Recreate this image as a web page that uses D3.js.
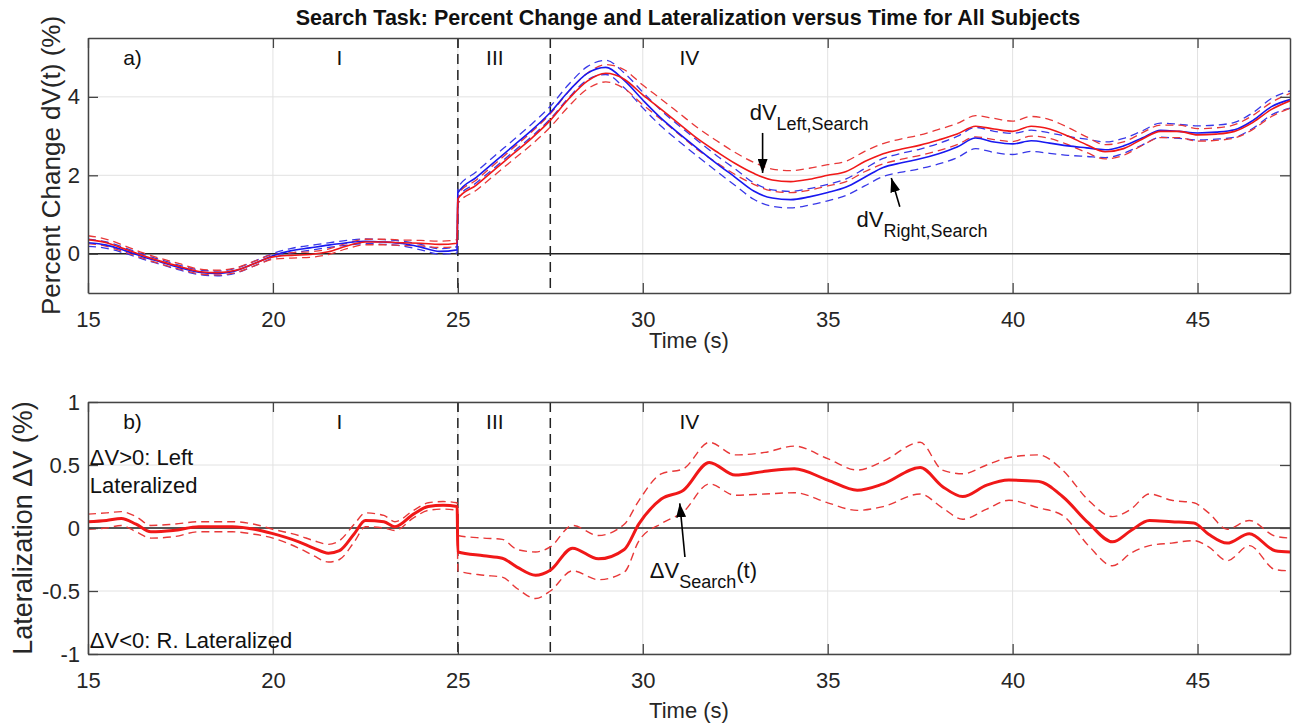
<!DOCTYPE html>
<html>
<head>
<meta charset="utf-8">
<script src="https://cdn.jsdelivr.net/npm/d3@7"></script>
<style>
  body { margin: 0; background: #fff; }
  svg { display: block; font-family: "Liberation Sans", Arial, sans-serif; }
</style>
</head>
<body>
<div id="chart"></div>
<script>
// ---- panel a: percent change, left (red) and right (blue) hemisphere ----
const timeA = [15, 15.5, 16, 16.5, 17, 17.5, 18, 18.5, 19, 19.5, 20, 20.5, 21, 21.5, 22, 22.5, 23, 23.5, 24, 24.5, 24.98,
  25, 25.5, 26, 26.5, 27, 27.5, 28, 28.5, 29, 29.5, 30, 30.5, 31, 31.5, 32, 32.5, 33, 33.5, 34, 34.5,
  35, 35.5, 36, 36.5, 37, 37.5, 38, 38.5, 39, 39.5, 40, 40.5, 41, 41.5, 42, 42.5, 43, 43.5, 44, 44.5,
  45, 45.5, 46, 46.5, 47, 47.5];
const leftMean = [0.36, 0.28, 0.12, -0.05, -0.2, -0.33, -0.45, -0.48, -0.42, -0.25, -0.08, -0.04, -0.02, 0.05, 0.2, 0.3, 0.3, 0.28, 0.27, 0.24, 0.27,
  1.40, 1.75, 2.15, 2.55, 2.95, 3.40, 3.95, 4.4, 4.6, 4.45, 4.05, 3.68, 3.3, 2.92, 2.6, 2.3, 2.05, 1.88, 1.84, 1.9,
  2.0, 2.1, 2.35, 2.55, 2.67, 2.77, 2.9, 3.05, 3.25, 3.18, 3.12, 3.25, 3.18, 3.0, 2.78, 2.6, 2.68, 2.92, 3.12, 3.12,
  3.03, 3.05, 3.12, 3.35, 3.68, 3.9];
const leftErr = [0.1, 0.09, 0.08, 0.07, 0.07, 0.07, 0.06, 0.06, 0.06, 0.06, 0.06, 0.07, 0.07, 0.07, 0.07, 0.07, 0.07, 0.07, 0.07, 0.08, 0.09,
  0.12, 0.13, 0.14, 0.15, 0.16, 0.17, 0.19, 0.2, 0.22, 0.24, 0.25, 0.26, 0.27, 0.28, 0.28, 0.28, 0.28, 0.28, 0.28, 0.28,
  0.27, 0.26, 0.26, 0.26, 0.26, 0.26, 0.27, 0.27, 0.27, 0.27, 0.26, 0.25, 0.24, 0.22, 0.2, 0.18, 0.17, 0.16, 0.16, 0.16,
  0.16, 0.16, 0.17, 0.18, 0.18, 0.19];
const rightMean = [0.28, 0.22, 0.08, -0.08, -0.22, -0.36, -0.47, -0.5, -0.43, -0.25, -0.05, 0.08, 0.15, 0.22, 0.28, 0.32, 0.3, 0.26, 0.17, 0.06, 0.1,
  1.55, 1.95, 2.35, 2.75, 3.15, 3.6, 4.15, 4.6, 4.75, 4.42, 3.92, 3.45, 3.05, 2.67, 2.3, 1.95, 1.6, 1.42, 1.38, 1.45,
  1.56, 1.7, 1.95, 2.2, 2.32, 2.42, 2.55, 2.72, 2.95, 2.85, 2.8, 2.88, 2.82, 2.75, 2.7, 2.65, 2.75, 2.95, 3.15, 3.12,
  3.08, 3.1, 3.16, 3.4, 3.75, 3.93];
const rightErr = [0.09, 0.08, 0.07, 0.06, 0.06, 0.06, 0.06, 0.06, 0.06, 0.06, 0.06, 0.06, 0.06, 0.06, 0.06, 0.06, 0.06, 0.06, 0.07, 0.07, 0.08,
  0.13, 0.14, 0.15, 0.15, 0.16, 0.16, 0.17, 0.17, 0.18, 0.19, 0.2, 0.2, 0.2, 0.2, 0.2, 0.21, 0.21, 0.21, 0.21, 0.21,
  0.21, 0.21, 0.22, 0.23, 0.24, 0.25, 0.26, 0.27, 0.27, 0.27, 0.27, 0.27, 0.26, 0.24, 0.22, 0.2, 0.19, 0.18, 0.18, 0.18,
  0.18, 0.18, 0.19, 0.2, 0.21, 0.22];

// ---- panel b: lateralization dV = left - right ----
const timeB = [15, 15.5, 15.9, 16.3, 16.7, 17.3, 18, 18.9, 19.5, 20, 20.7, 21.1, 21.5, 21.8, 22.2, 22.5, 23, 23.3, 23.8, 24.2, 24.6, 24.98,
  25, 25.7, 26.2, 26.6, 27.1, 27.5, 28.1, 28.8, 29.5, 29.9, 30.5, 31.1, 31.8, 32.5, 33.3, 34.1, 35.0, 35.8, 36.5, 37.5,
  38.1, 38.65, 39.3, 39.9, 40.7, 41.35, 42.05, 42.7, 43.2, 43.7, 44.3, 44.9, 45.3, 45.8, 46.4, 47.1, 47.5];
const latMean = [0.05, 0.06, 0.075, 0.03, -0.03, -0.02, 0.01, 0.01, -0.01, -0.045, -0.11, -0.16, -0.2, -0.18, -0.045, 0.06, 0.05, 0.01, 0.11, 0.17, 0.18, 0.17,
  -0.19, -0.22, -0.24, -0.31, -0.375, -0.335, -0.16, -0.245, -0.17, 0.035, 0.23, 0.3, 0.52, 0.42, 0.45, 0.47, 0.38, 0.3, 0.35, 0.48,
  0.33, 0.25, 0.34, 0.38, 0.37, 0.25, 0.04, -0.11, -0.02, 0.06, 0.05, 0.04, -0.05, -0.12, -0.045, -0.18, -0.19];
const latUpper = [0.11, 0.12, 0.13, 0.09, 0.02, 0.03, 0.05, 0.05, 0.03, -0.01, -0.06, -0.1, -0.13, -0.1, 0.03, 0.12, 0.1, 0.05, 0.14, 0.2, 0.21, 0.2,
  -0.06, -0.08, -0.09, -0.17, -0.19, -0.15, 0.02, -0.06, 0.03, 0.22, 0.43, 0.47, 0.68, 0.58, 0.6, 0.65, 0.55, 0.46, 0.53, 0.68,
  0.46, 0.43, 0.5, 0.56, 0.58, 0.46, 0.22, 0.09, 0.15, 0.27, 0.22, 0.2, 0.12, -0.01, 0.06, -0.065, -0.08];
const latLower = [-0.01, 0.0, 0.02, -0.03, -0.08, -0.07, -0.03, -0.03, -0.05, -0.08, -0.16, -0.22, -0.27, -0.25, -0.11, 0.01, 0.0, -0.02, 0.08, 0.14, 0.15, 0.14,
  -0.34, -0.375, -0.39, -0.48, -0.56, -0.5, -0.34, -0.41, -0.35, -0.1, 0.035, 0.13, 0.35, 0.26, 0.27, 0.28, 0.2, 0.14, 0.17, 0.27,
  0.16, 0.07, 0.15, 0.22, 0.16, 0.1, -0.14, -0.3, -0.2, -0.14, -0.12, -0.1, -0.15, -0.26, -0.14, -0.33, -0.34];

// axis ticks and phase markers
const xTicks = [15, 20, 25, 30, 35, 40, 45];
const yTicksA = [0, 2, 4];
const yTicksB = [-1, -0.5, 0, 0.5, 1];
const phaseLines = [25, 27.5];
const phaseLabels = [{ t: 21.8, text: "I" }, { t: 26.0, text: "III" }, { t: 31.26, text: "IV" }];

const width = 1292, height = 726;
const marginLeft = 88, marginRight = 2;
const red = "#f01818", redDash = "#e83838", blue = "#1818f0", blueDash = "#3838e8";
const ink = "#262626";

const svg = d3.select("#chart").append("svg")
    .attr("width", width)
    .attr("height", height)
    .attr("viewBox", [0, 0, width, height]);

const defs = svg.append("defs");
defs.append("marker")
    .attr("id", "arrow")
    .attr("viewBox", "0 -5 14 10")
    .attr("refX", 14).attr("refY", 0)
    .attr("markerUnits", "userSpaceOnUse")
    .attr("markerWidth", 14).attr("markerHeight", 10)
    .attr("orient", "auto")
  .append("path")
    .attr("d", "M0,-5L14,0L0,5Z")
    .attr("fill", "#000");

const x = d3.scaleLinear().domain([15, 47.5]).range([marginLeft, width - marginRight]);

svg.append("text")
    .attr("x", 688).attr("y", 25)
    .attr("text-anchor", "middle")
    .attr("font-size", 21.5).attr("font-weight", "bold")
    .attr("fill", "#111")
    .text("Search Task: Percent Change and Lateralization versus Time for All Subjects");

function panel({ id, top, bottom, yDomain, yTicks, yLabel, yLabelX, yLabelSize, tag, xLabelY }) {
  const y = d3.scaleLinear().domain(yDomain).range([bottom, top]);
  const g = svg.append("g");
  const [x0, x1] = x.range();

  defs.append("clipPath").attr("id", `clip-${id}`)
    .append("rect").attr("x", x0).attr("y", top).attr("width", x1 - x0).attr("height", bottom - top);

  // grid
  g.append("g").selectAll("line").data(xTicks).join("line")
      .attr("x1", d => x(d)).attr("x2", d => x(d))
      .attr("y1", top).attr("y2", bottom)
      .attr("stroke", "#e2e2e2").attr("stroke-width", 1);
  g.append("g").selectAll("line").data(yTicks).join("line")
      .attr("x1", x0).attr("x2", x1)
      .attr("y1", d => y(d)).attr("y2", d => y(d))
      .attr("stroke", "#e2e2e2").attr("stroke-width", 1);

  // zero line
  g.append("line")
      .attr("x1", x0).attr("x2", x1)
      .attr("y1", y(0)).attr("y2", y(0))
      .attr("stroke", "#222").attr("stroke-width", 1.6);

  // phase boundaries
  g.append("g").selectAll("line").data(phaseLines).join("line")
      .attr("x1", d => x(d)).attr("x2", d => x(d))
      .attr("y1", top).attr("y2", bottom)
      .attr("stroke", "#222").attr("stroke-width", 1.5)
      .attr("stroke-dasharray", "10,6");

  const plot = g.append("g").attr("clip-path", `url(#clip-${id})`);

  // axes (MATLAB style: ticks inward on all four sides)
  const axB = g.append("g").attr("transform", `translate(0,${bottom})`)
      .call(d3.axisBottom(x).tickValues(xTicks).tickSizeInner(-10).tickSizeOuter(0).tickPadding(18));
  const axT = g.append("g").attr("transform", `translate(0,${top})`)
      .call(d3.axisTop(x).tickValues(xTicks).tickSizeInner(-10).tickSizeOuter(0).tickFormat(""));
  const axL = g.append("g").attr("transform", `translate(${x0},0)`)
      .call(d3.axisLeft(y).tickValues(yTicks).tickSizeInner(-10).tickSizeOuter(0).tickPadding(8).tickFormat(d => String(d)));
  const axR = g.append("g").attr("transform", `translate(${x1},0)`)
      .call(d3.axisRight(y).tickValues(yTicks).tickSizeInner(-10).tickSizeOuter(0).tickFormat(""));
  [axB, axT, axL, axR].forEach(a => {
    a.select(".domain").attr("stroke", "#444").attr("stroke-width", 1.5);
    a.selectAll(".tick line").attr("stroke", "#444").attr("stroke-width", 1.3);
    a.selectAll("text").attr("font-size", 22).attr("fill", ink).attr("font-family", null);
  });

  // axis labels
  g.append("text")
      .attr("x", (x0 + x1) / 2).attr("y", xLabelY)
      .attr("text-anchor", "middle").attr("font-size", 22).attr("fill", ink)
      .text("Time (s)");
  g.append("text")
      .attr("transform", `translate(${yLabelX},${(top + bottom) / 2}) rotate(-90)`)
      .attr("text-anchor", "middle").attr("font-size", yLabelSize).attr("fill", ink)
      .text(yLabel);

  // panel tag and phase labels
  const labelY = y.invert(top + 27);
  g.append("text")
      .attr("x", x(15.95)).attr("y", y(labelY))
      .attr("font-size", 21).attr("fill", "#111")
      .text(tag);
  g.append("g").selectAll("text").data(phaseLabels).join("text")
      .attr("x", d => x(d.t)).attr("y", y(labelY))
      .attr("text-anchor", "middle").attr("font-size", 21).attr("fill", "#111")
      .text(d => d.text);

  return { y, plot, g };
}

function drawLine(plot, t, v, y, color, w, dash) {
  const line = d3.line()
      .x((d, i) => x(t[i]))
      .y(d => y(d))
      .curve(d3.curveMonotoneX);
  plot.append("path")
      .attr("d", line(v))
      .attr("fill", "none")
      .attr("stroke", color)
      .attr("stroke-width", w)
      .attr("stroke-linejoin", "round")
      .attr("stroke-dasharray", dash || null);
}

function subText(g, px, py, main, sub, tail) {
  const t = g.append("text").attr("x", px).attr("y", py).attr("fill", "#111").attr("font-size", 22);
  t.append("tspan").text(main);
  t.append("tspan").attr("font-size", 18).attr("dy", 10).text(sub);
  if (tail) t.append("tspan").attr("font-size", 22).attr("dy", -10).text(tail);
}

function arrow(g, p0, p1) {
  g.append("line")
      .attr("x1", p0[0]).attr("y1", p0[1])
      .attr("x2", p1[0]).attr("y2", p1[1])
      .attr("stroke", "#000").attr("stroke-width", 1.6)
      .attr("marker-end", "url(#arrow)");
}

// ---- panel a ----
const A = panel({
  id: "a", top: 38, bottom: 293, yDomain: [-1, 5.5], yTicks: yTicksA,
  yLabel: "Percent Change dV(t) (%)", yLabelX: 60, yLabelSize: 26, tag: "a)", xLabelY: 348
});
const lUp = leftMean.map((d, i) => d + leftErr[i]), lLo = leftMean.map((d, i) => d - leftErr[i]);
const rUp = rightMean.map((d, i) => d + rightErr[i]), rLo = rightMean.map((d, i) => d - rightErr[i]);
drawLine(A.plot, timeA, rUp, A.y, blueDash, 1.3, "8,5");
drawLine(A.plot, timeA, rLo, A.y, blueDash, 1.3, "8,5");
drawLine(A.plot, timeA, lUp, A.y, redDash, 1.3, "8,5");
drawLine(A.plot, timeA, lLo, A.y, redDash, 1.3, "8,5");
drawLine(A.plot, timeA, rightMean, A.y, blue, 1.6);
drawLine(A.plot, timeA, leftMean, A.y, red, 1.6);

subText(A.g, x(32.89), A.y(3.41), "dV", "Left,Search");
arrow(A.g, [x(33.24), A.y(3.08)], [x(33.24), A.y(2.06)]);
subText(A.g, x(35.78), A.y(0.69), "dV", "Right,Search");
arrow(A.g, [x(36.95), A.y(1.2)], [x(36.72), A.y(1.93)]);

// ---- panel b ----
const B = panel({
  id: "b", top: 402, bottom: 654, yDomain: [-1, 1], yTicks: yTicksB,
  yLabel: "Lateralization \u0394V (%)", yLabelX: 32, yLabelSize: 27, tag: "b)", xLabelY: 718
});
drawLine(B.plot, timeB, latUpper, B.y, redDash, 1.4, "8,5");
drawLine(B.plot, timeB, latLower, B.y, redDash, 1.4, "8,5");
drawLine(B.plot, timeB, latMean, B.y, red, 3);

B.g.append("text").attr("x", x(15.05)).attr("y", B.y(0.497)).attr("font-size", 22).attr("fill", "#111").text("\u0394V>0: Left");
B.g.append("text").attr("x", x(15.05)).attr("y", B.y(0.275)).attr("font-size", 22).attr("fill", "#111").text("Lateralized");
B.g.append("text").attr("x", x(15.05)).attr("y", B.y(-0.955)).attr("font-size", 22).attr("fill", "#111").text("\u0394V<0: R. Lateralized");
subText(B.g, x(30.19), B.y(-0.4), "\u0394V", "Search", "(t)");
arrow(B.g, [x(31.14), B.y(-0.23)], [x(31.0), B.y(0.196)]);
</script>
</body>
</html>
